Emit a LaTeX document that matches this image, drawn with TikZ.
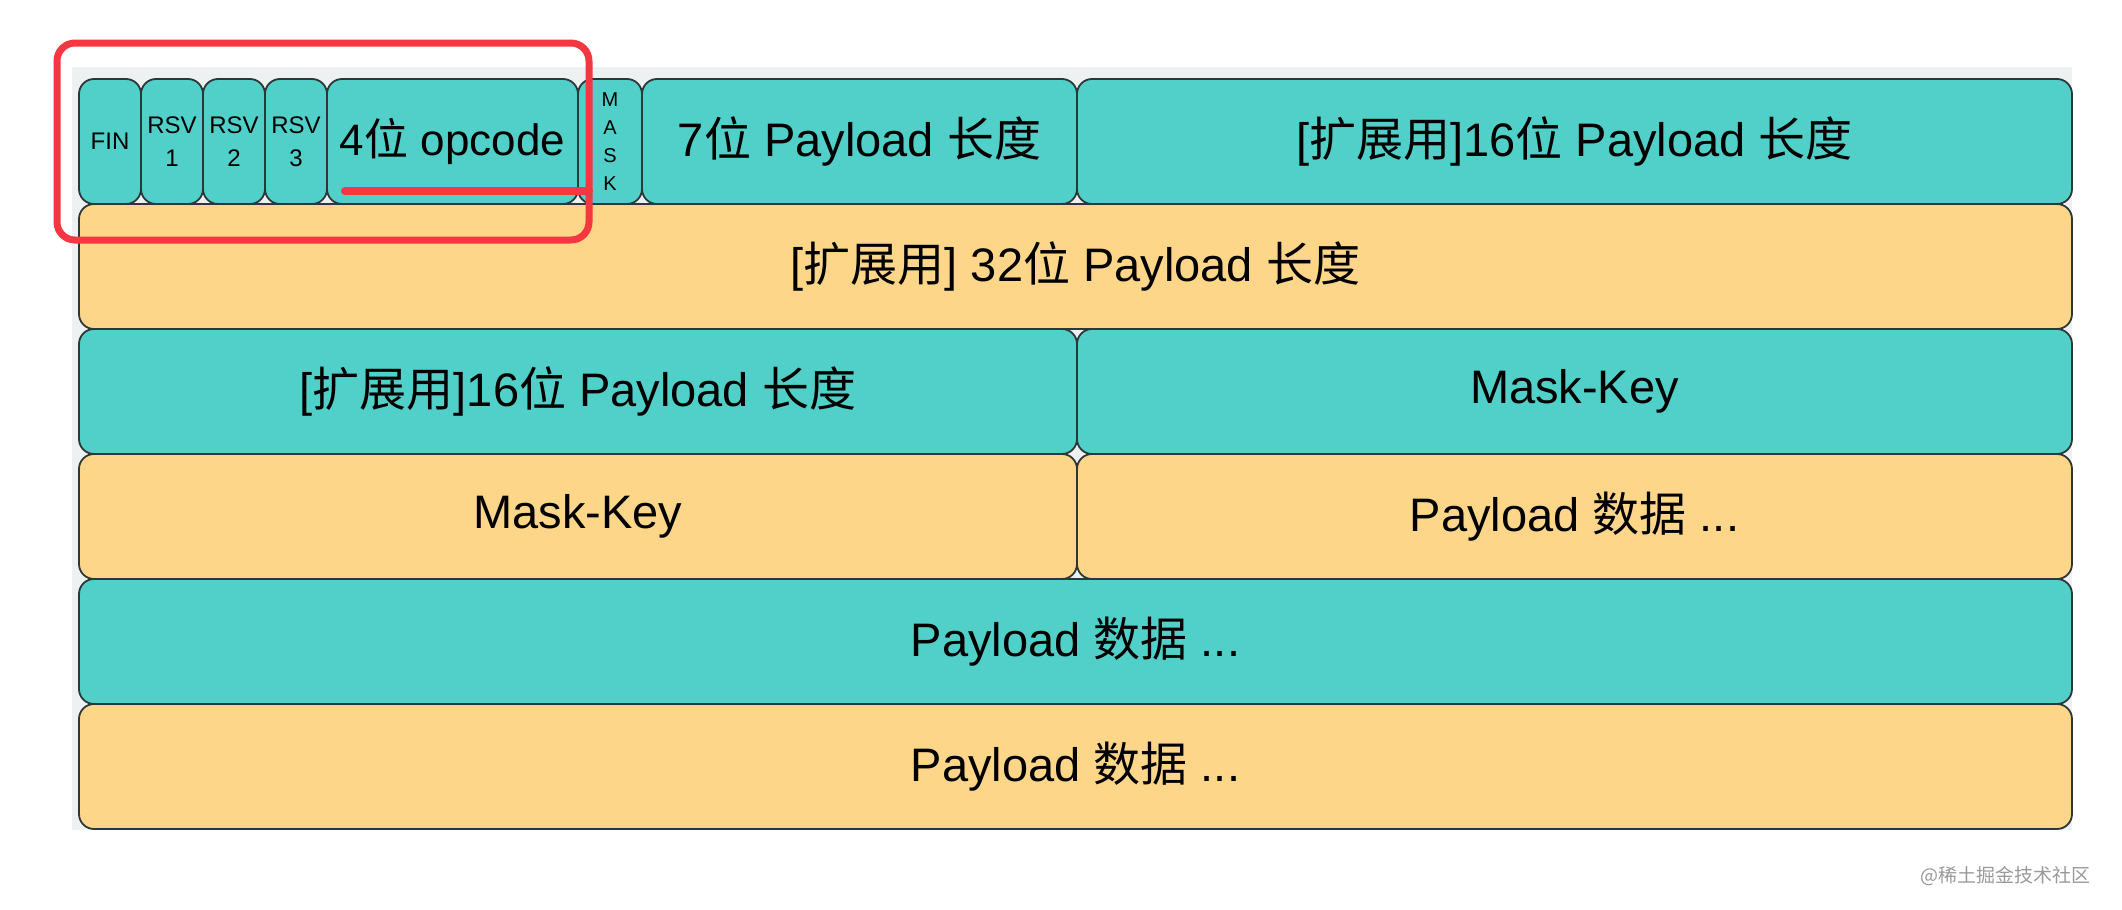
\documentclass[tikz,border=0pt]{standalone}
\usepackage{fontspec}
\setmainfont{Liberation Sans}
\newfontfamily\zhfont{Noto Sans CJK SC}
\newcommand{\zh}[1]{{\zhfont #1}}
\usepackage{tikz}
\usetikzlibrary{positioning}

\definecolor{cellteal}{RGB}{80,208,200}
\definecolor{cellsand}{RGB}{254,214,137}
\definecolor{celledge}{RGB}{45,55,55}
\definecolor{framegray}{RGB}{238,241,241}
\definecolor{markred}{RGB}{245,55,65}

\begin{document}
\begin{tikzpicture}[x=0.5pt, y=-0.5pt, node distance=0pt,
    cell/.style={draw=celledge, line width=0.9pt, rounded corners=7.5pt,
                 inner sep=0pt, outer sep=0pt, minimum height=62.5pt, align=center},
    tealcell/.style={cell, fill=cellteal},
    sandcell/.style={cell, fill=cellsand},
    bitfont/.style={font=\fontsize{12}{16.5}\selectfont},
    maskfont/.style={font=\fontsize{10}{14}\selectfont},
    bigfont/.style={font=\fontsize{23.5}{28}\selectfont}]
        \useasboundingbox (0,0) rectangle (2122,910);
        \fill[framegray] (72,67) rectangle (2072,830);

        % first row: header bits
        \node[tealcell, bitfont, minimum width=31pt, anchor=north west] (fin) at (79,79) {FIN};
        \node[tealcell, bitfont, minimum width=31pt] (rsv1) [right=of fin] {RSV\\1};
        \node[tealcell, bitfont, minimum width=31pt] (rsv2) [right=of rsv1] {RSV\\2};
        \node[tealcell, bitfont, minimum width=31pt] (rsv3) [right=of rsv2] {RSV\\3};
        \node[tealcell, font=\fontsize{22}{26}\selectfont, minimum width=125.5pt] (opcode) [right=of rsv3] {4\zh{位} opcode};
        \node[tealcell, maskfont, minimum width=32pt] (mask) [right=of opcode] {M\\A\\S\\K};
        \node[tealcell, bigfont, minimum width=217.5pt] (len7) [right=of mask] {7\zh{位} Payload \zh{长度}};
        \node[tealcell, bigfont, minimum width=497.5pt] (len16) [right=of len7] {[\zh{扩展用}]16\zh{位} Payload \zh{长度}};

        % remaining rows
        \node[sandcell, bigfont, minimum width=996.5pt] (len32) [below right=of fin.south west] {[\zh{扩展用}] 32\zh{位} Payload \zh{长度}};
        \node[tealcell, bigfont, minimum width=499pt] (ext16) [below right=of len32.south west] {[\zh{扩展用}]16\zh{位} Payload \zh{长度}};
        \node[tealcell, bigfont, minimum width=497.5pt] (key1) [right=of ext16] {Mask-Key};
        \node[sandcell, bigfont, minimum width=499pt] (key2) [below right=of ext16.south west] {Mask-Key};
        \node[sandcell, bigfont, minimum width=497.5pt] (data1) [right=of key2] {Payload \zh{数据} ...};
        \node[tealcell, bigfont, minimum width=996.5pt] (data2) [below right=of key2.south west] {Payload \zh{数据} ...};
        \node[sandcell, bigfont, minimum width=996.5pt] (data3) [below right=of data2.south west] {Payload \zh{数据} ...};

        % red highlight
        \draw[markred, line width=3.5pt, rounded corners=9pt] (57,43) rectangle (589,240);
        \draw[markred, line width=4pt, line cap=round] (345,191) -- (589,191);

        \node[font=\zhfont\fontsize{9.5}{12}\selectfont, text=black!40, anchor=east] (mark) at (2098,876) {@稀土掘金技术社区};
\end{tikzpicture}
\end{document}
